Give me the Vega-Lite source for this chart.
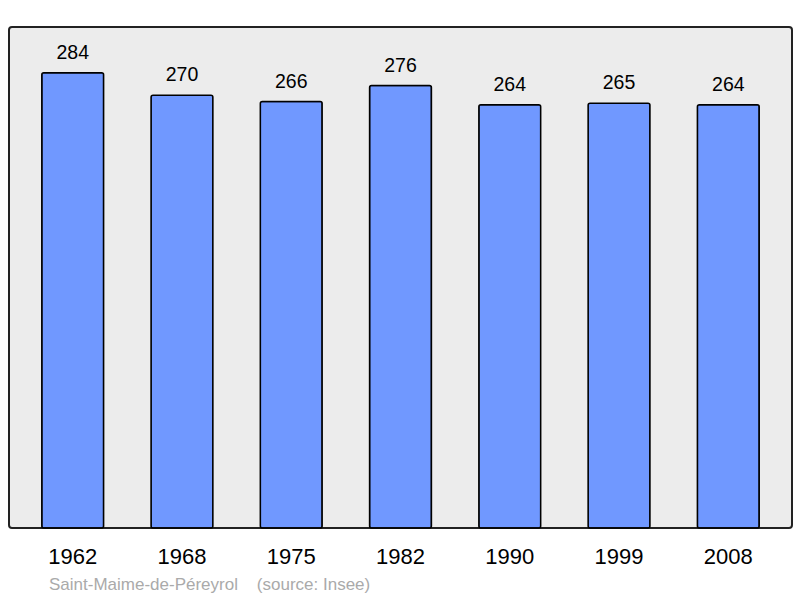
{
  "$schema": "https://vega.github.io/schema/vega-lite/v6.json",
  "width": 783,
  "height": 501,
  "autosize": "none",
  "padding": {"left": 9, "top": 27, "right": 8, "bottom": 70},
  "background": "white",
  "data": {
    "values": [
      {"year": "1962", "population": 284},
      {"year": "1968", "population": 270},
      {"year": "1975", "population": 266},
      {"year": "1982", "population": 276},
      {"year": "1990", "population": 264},
      {"year": "1999", "population": 265},
      {"year": "2008", "population": 264}
    ]
  },
  "title": {
    "text": "Saint-Maime-de-Péreyrol\u00a0\u00a0\u00a0\u00a0(source: Insee)",
    "orient": "bottom",
    "anchor": "start",
    "frame": "group",
    "dx": 40,
    "offset": 10,
    "font": "Liberation Sans",
    "fontSize": 17,
    "fontWeight": "normal",
    "color": "#aaaaaa"
  },
  "encoding": {
    "x": {
      "field": "year",
      "type": "ordinal",
      "sort": null,
      "scale": {"paddingInner": 0.434, "paddingOuter": 0.3},
      "axis": {
        "title": null,
        "domain": false,
        "ticks": false,
        "grid": false,
        "labelAngle": 0,
        "labelFont": "Liberation Sans",
        "labelFontSize": 22,
        "labelColor": "black",
        "labelBaseline": "alphabetic",
        "labelPadding": 35
      }
    },
    "y": {
      "field": "population",
      "type": "quantitative",
      "scale": {"domain": [0, 312.5], "nice": false, "zero": true},
      "axis": null
    }
  },
  "layer": [
    {
      "mark": {
        "type": "bar",
        "fill": "#7098ff",
        "stroke": "black",
        "strokeWidth": 1.5,
        "cornerRadius": 2
      }
    },
    {
      "mark": {
        "type": "text",
        "baseline": "alphabetic",
        "dy": -14,
        "font": "Liberation Sans",
        "fontSize": 19.5,
        "color": "black"
      },
      "encoding": {
        "text": {"field": "population", "type": "quantitative"}
      }
    }
  ],
  "config": {
    "view": {
      "fill": "#ececec",
      "stroke": "#222222",
      "strokeWidth": 2,
      "cornerRadius": 3
    }
  }
}
